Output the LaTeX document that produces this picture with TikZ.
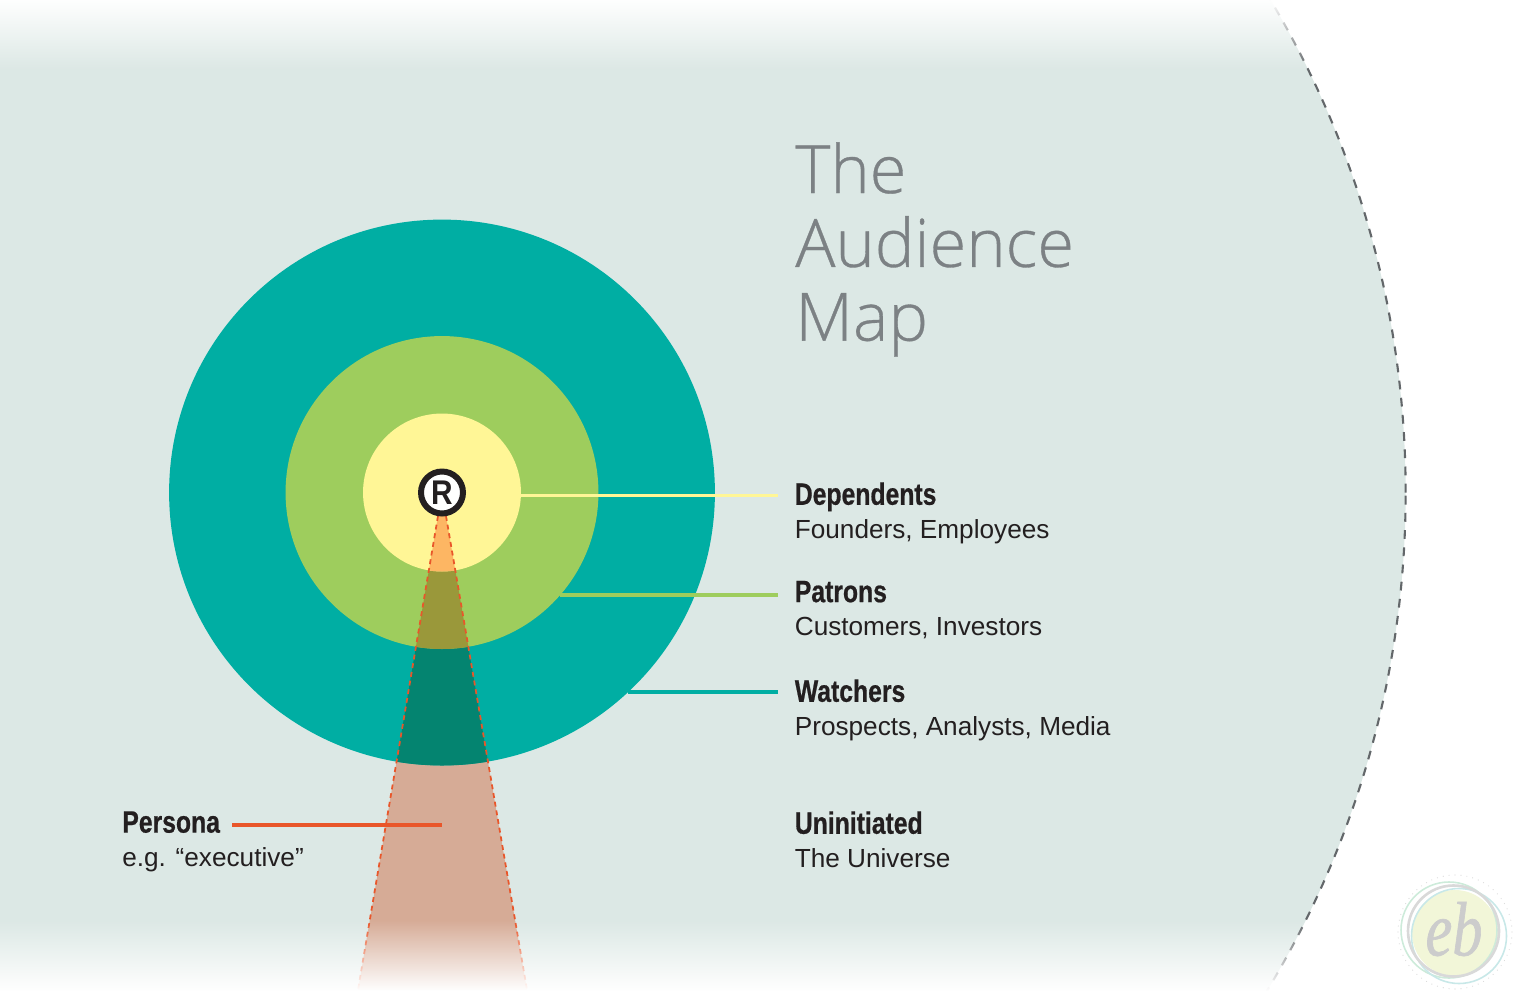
\documentclass[tikz,border=0pt]{standalone}
\usepackage{fontspec}
\setmainfont{Liberation Sans}
\newfontfamily\titlefont[FakeBold=0.5]{Open Sans Light}
\newfontfamily\headfont[FakeStretch=0.8,FakeBold=0.6]{Liberation Sans Bold}
\newfontfamily\brandfont[FakeStretch=0.87]{Liberation Sans Bold}
\newfontfamily\markfont[FakeStretch=0.78,FakeBold=0.8]{Liberation Serif Italic}
\definecolor{universebg}{RGB}{220,232,229}
\definecolor{watchteal}{RGB}{0,174,163}
\definecolor{patrongreen}{RGB}{158,205,93}
\definecolor{dependyellow}{RGB}{255,246,150}
\definecolor{conebg}{RGB}{214,171,150}
\definecolor{coneteal}{RGB}{4,132,112}
\definecolor{conegreen}{RGB}{154,152,58}
\definecolor{coneyellow}{RGB}{253,182,99}
\definecolor{personared}{RGB}{233,86,42}
\definecolor{inkblack}{RGB}{35,31,32}
\definecolor{titlegray}{RGB}{124,129,132}
\definecolor{stampfill}{RGB}{242,246,216}
\definecolor{stampgreen}{RGB}{205,235,218}
\definecolor{stampteal}{RGB}{200,232,232}
\usetikzlibrary{fadings}
\newcommand{\conepath}{(438,516) -- (446,516) -- (527,990) -- (358,990) -- cycle}
\newcommand{\lblhead}[1]{{\headfont\fontsize{17.6}{19}\selectfont #1}}

\begin{document}
\begin{tikzpicture}[
  x=0.02cm, y=-0.02cm,
  ring/.style={circle, inner sep=0pt, outer sep=0pt, minimum size=#1*0.04cm},
  lbl/.style={anchor=north west, inner sep=0pt, align=left, text=inkblack, font=\fontsize{14.9}{19}\selectfont},
  link/.style={line width=2.2pt},
  coneedge/.style={personared, line width=1pt, dash pattern=on 2.8pt off 2.2pt}
]
  \useasboundingbox (0,0) rectangle (1513,990);

  % the universe
  \begin{scope}
    \clip (0,0) rectangle (1513,990);
    \node[ring=964, fill=universebg, draw=titlegray!80!black, line width=1.2pt, dash pattern=on 5pt off 4.8pt] (universe) at (442,492.5) {};
  \end{scope}
  \fill[conebg] \conepath;

  % audience rings, the cone changes colour inside each
  \node[ring=273, fill=watchteal] (watchers) at (442,492.5) {};
  \begin{scope}
    \clip (442,492.5) circle (273);
    \fill[coneteal] \conepath;
  \end{scope}
  \node[ring=156.5, fill=patrongreen] (patrons) at (442,492.5) {};
  \begin{scope}
    \clip (442,492.5) circle (156.5);
    \fill[conegreen] \conepath;
  \end{scope}
  \node[ring=79, fill=dependyellow] (dependents) at (442,492.5) {};
  \begin{scope}
    \clip (442,492.5) circle (79);
    \fill[coneyellow] \conepath;
  \end{scope}
  \draw[coneedge] (438,516) -- (358,990);
  \draw[coneedge] (446,516) -- (527,990);

  % fade top and bottom
  \fill[white, path fading=south] (-5,-1) rectangle (1518,70);
  \fill[white, path fading=north] (-5,920) rectangle (1518,991);

  \node[ring=21, fill=white, draw=inkblack, line width=3.4pt, font=\brandfont\fontsize{19.5}{19.5}\selectfont, text=inkblack] (brand) at (442,492.5) {R};

  % title and labels
  \node[anchor=north west, inner sep=0pt, align=left, text=titlegray, font=\titlefont\fontsize{38}{42}\selectfont] (title) at (795,142) {The\\Audience\\Map};
  \node[lbl] (lbldependents) at (794.5,482) {\lblhead{Dependents}\\Founders, Employees};
  \node[lbl] (lblpatrons) at (794.5,580.5) {\lblhead{Patrons}\\Customers, Investors};
  \node[lbl] (lblwatchers) at (794.5,679) {\lblhead{Watchers}\\Prospects, Analysts, Media};
  \node[lbl] (lbluninitiated) at (794.5,811) {\lblhead{Uninitiated}\\The Universe};
  \node[lbl] (lblpersona) at (122,811) {\lblhead{Persona}\\e.g. “executive”};

  % connectors
  \coordinate (enddependents) at (778,495.5);
  \coordinate (endpatrons) at (778,595);
  \coordinate (endwatchers) at (778,692);
  \coordinate (startpersona) at (232,825);
  \coordinate (endpersona) at (442,825);
  \draw[link, dependyellow] (enddependents -| dependents.-2.2) -- (enddependents);
  \draw[link, patrongreen] (endpatrons -| patrons.-41) -- (endpatrons);
  \draw[link, watchteal] (endwatchers -| watchers.-47.1) -- (endwatchers);
  \draw[link, personared] (startpersona) -- (endpersona);

  % watermark
  \node[ring=43, fill=stampfill] (stamp) at (1455,933) {};
  \draw[stampgreen, line width=0.9pt] (1449,930) circle (48);
  \draw[stampteal, line width=0.9pt] (1459,936) circle (47.5);
  \draw[gray!30, line width=1.5pt] (1453.5,931) circle (45.5);
  \foreach \ang in {0,6,...,354}
    \fill[gray!30] (1455,932) ++(\ang:57) circle (0.6);
  \node[inner sep=0pt, text=gray!40, font=\markfont\fontsize{44}{44}\selectfont] (stamptext) at (1454,929) {eb};
\end{tikzpicture}
\end{document}
